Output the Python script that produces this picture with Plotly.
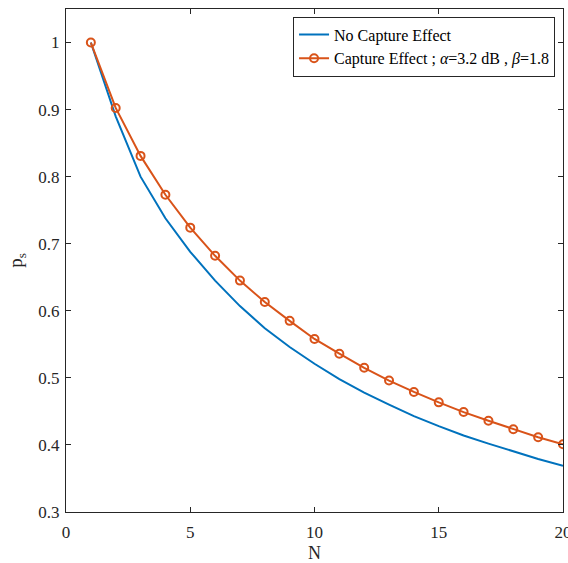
import plotly.graph_objects as go

N = list(range(1, 21))
ps_no_capture = [1.0, 0.890, 0.800, 0.738, 0.688, 0.645, 0.607, 0.574, 0.546, 0.521,
                 0.498, 0.478, 0.460, 0.443, 0.428, 0.414, 0.402, 0.390, 0.379, 0.369]
ps_capture = [1.0, 0.9025, 0.831, 0.773, 0.724, 0.682, 0.645, 0.613, 0.585, 0.558,
              0.536, 0.515, 0.496, 0.479, 0.4635, 0.449, 0.436, 0.4235, 0.4115, 0.401]

x_ticks = [0, 5, 10, 15, 20]
y_ticks = [0.3, 0.4, 0.5, 0.6, 0.7, 0.8, 0.9, 1.0]
y_ticklabels = ["0.3", "0.4", "0.5", "0.6", "0.7", "0.8", "0.9", "1"]

FONT = "Liberation Serif, Times New Roman, serif"
AX = "#262626"

fig = go.Figure()
fig.add_trace(go.Scatter(
    x=N, y=ps_no_capture, mode="lines", name="No Capture Effect",
    line=dict(color="#0072BD", width=2)))
fig.add_trace(go.Scatter(
    x=N, y=ps_capture, mode="lines+markers",
    name="Capture Effect ; <i>α</i>=3.2 dB , <i>β</i>=1.8",
    line=dict(color="#D95319", width=2),
    marker=dict(symbol="circle-open", size=8, color="#D95319", line=dict(width=2))))

fig.update_layout(
    width=568, height=563,
    margin=dict(l=66, r=5, t=9, b=51, autoexpand=False),
    paper_bgcolor="white", plot_bgcolor="white",
    font=dict(family=FONT, size=17, color=AX),
    showlegend=True,
    legend=dict(x=0.984, y=0.985, xanchor="right", yanchor="top",
                bgcolor="white", bordercolor=AX, borderwidth=1,
                font=dict(family=FONT, size=16, color="black"),
                tracegroupgap=0, itemwidth=30),
    xaxis=dict(range=[0, 20], tickvals=x_ticks, ticks="inside", ticklen=5,
               showline=True, linecolor=AX, linewidth=1, mirror="ticks",
               showgrid=False, zeroline=False, tickcolor=AX, automargin=False,
               ticklabelstandoff=5, ticklabeloverflow="allow",
               tickfont=dict(family=FONT, size=17, color=AX),
               title=dict(text="N", font=dict(family=FONT, size=18, color=AX), standoff=4)),
    yaxis=dict(range=[0.3, 1.05], tickvals=y_ticks, ticktext=y_ticklabels,
               ticks="inside", ticklen=5, automargin=False,
               showline=True, linecolor=AX, linewidth=1, mirror="ticks",
               showgrid=False, zeroline=False, tickcolor=AX,
               ticklabelstandoff=2,
               tickfont=dict(family=FONT, size=17, color=AX),
               title=dict(text="p<sub>s</sub>", font=dict(family=FONT, size=19, color=AX), standoff=10)),
)

fig.write_html("out.html", config={"displayModeBar": False},
               post_script="document.body.style.margin='0';")
